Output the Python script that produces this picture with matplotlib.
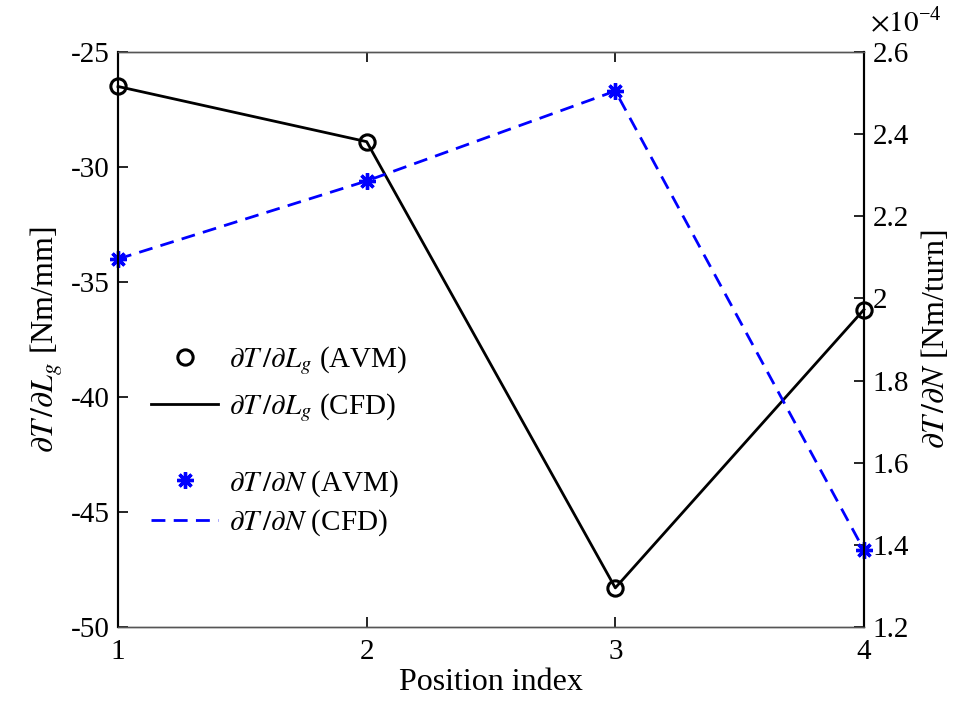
import matplotlib.pyplot as plt
from matplotlib.lines import Line2D

plt.rcParams['font.family'] = ['Liberation Serif', 'DejaVu Serif']
plt.rcParams['mathtext.fontset'] = 'stix'

# data
position = [1, 2, 3, 4]
dT_dLg = [-26.5, -28.9, -48.3, -36.2]          # Nm/mm
dT_dN = [2.096e-4, 2.286e-4, 2.505e-4, 1.387e-4]  # Nm/turn
left_ticks = [-50, -45, -40, -35, -30, -25]
right_ticks = [1.2, 1.4, 1.6, 1.8, 2.0, 2.2, 2.4, 2.6]
right_labels = ['1.2', '1.4', '1.6', '1.8', '2', '2.2', '2.4', '2.6']

FS = 21
LW = 2.0

fig = plt.figure(figsize=(9.69, 7.15), dpi=100)
ax = fig.add_axes([0.1218, 0.1231, 0.7698, 0.8042])
ax2 = ax.twinx()

ax.plot(position, dT_dLg, '-', color='k', lw=LW, zorder=3, clip_on=False)
ax.plot(position, dT_dLg, 'o', mfc='none', mec='k', ms=11, mew=2.2, zorder=4, clip_on=False)

scaled = [v * 1e4 for v in dT_dN]
ax2.plot(position, scaled, '--', color='b', lw=LW, dashes=(5, 3), clip_on=False)
ax2.plot(position, scaled, ls='none', marker=(8, 2, 0), color='b', ms=12, mew=2.4, clip_on=False)

ax.set_xlim(1, 4)
ax.set_xticks(position)
ax.set_ylim(-50, -25)
ax.set_yticks(left_ticks)
ax.set_yticklabels([str(t) for t in left_ticks])
ax2.set_ylim(1.2, 2.6)
ax2.set_yticks(right_ticks)
ax2.set_yticklabels(right_labels)

for a in (ax, ax2):
    a.tick_params(direction='in', length=7, width=1.2, labelsize=FS, pad=6)
    for s in ('top', 'bottom'):
        a.spines[s].set_color('#555555')
        a.spines[s].set_linewidth(1.0)
    for s in ('left', 'right'):
        a.spines[s].set_color('k')
        a.spines[s].set_linewidth(1.5)
ax.tick_params(axis='x', top=True, colors='k', pad=9)
ax.tick_params(axis='y', right=False)

ax.set_xlabel('Position index', fontsize=FS + 2, labelpad=2)
ax.set_ylabel(r'$\partial T\,/\partial L_g$ [Nm/mm]', fontsize=FS + 2, labelpad=4)
ax2.set_ylabel(r'$\partial T\,/\partial N$ [Nm/turn]', fontsize=FS + 2, labelpad=8)

fig.text(0.898, 0.968, r'$\times 10^{\mathregular{-4}}$', fontsize=FS, ha='left', va='center')

h1 = [Line2D([], [], ls='none', marker='o', mfc='none', mec='k', ms=11, mew=2.2),
      Line2D([], [], color='k', lw=LW)]
h2 = [Line2D([], [], ls='none', marker=(8, 2, 0), color='b', ms=12, mew=2.4),
      Line2D([], [], color='b', lw=LW, ls='--', dashes=(5, 3))]
leg1 = fig.legend(h1, [r'$\partial T\,/\partial L_g$ (AVM)', r'$\partial T\,/\partial L_g$ (CFD)'],
                  loc='upper left', bbox_to_anchor=(0.129, 0.555), frameon=False,
                  fontsize=FS, handlelength=2.3, handletextpad=0.35, labelspacing=0.5)
leg2 = fig.legend(h2, [r'$\partial T\,/\partial N$ (AVM)', r'$\partial T\,/\partial N$ (CFD)'],
                  loc='upper left', bbox_to_anchor=(0.129, 0.382), frameon=False,
                  fontsize=FS, handlelength=2.3, handletextpad=0.35, labelspacing=0.3)

fig.savefig('out.png', dpi=100)
